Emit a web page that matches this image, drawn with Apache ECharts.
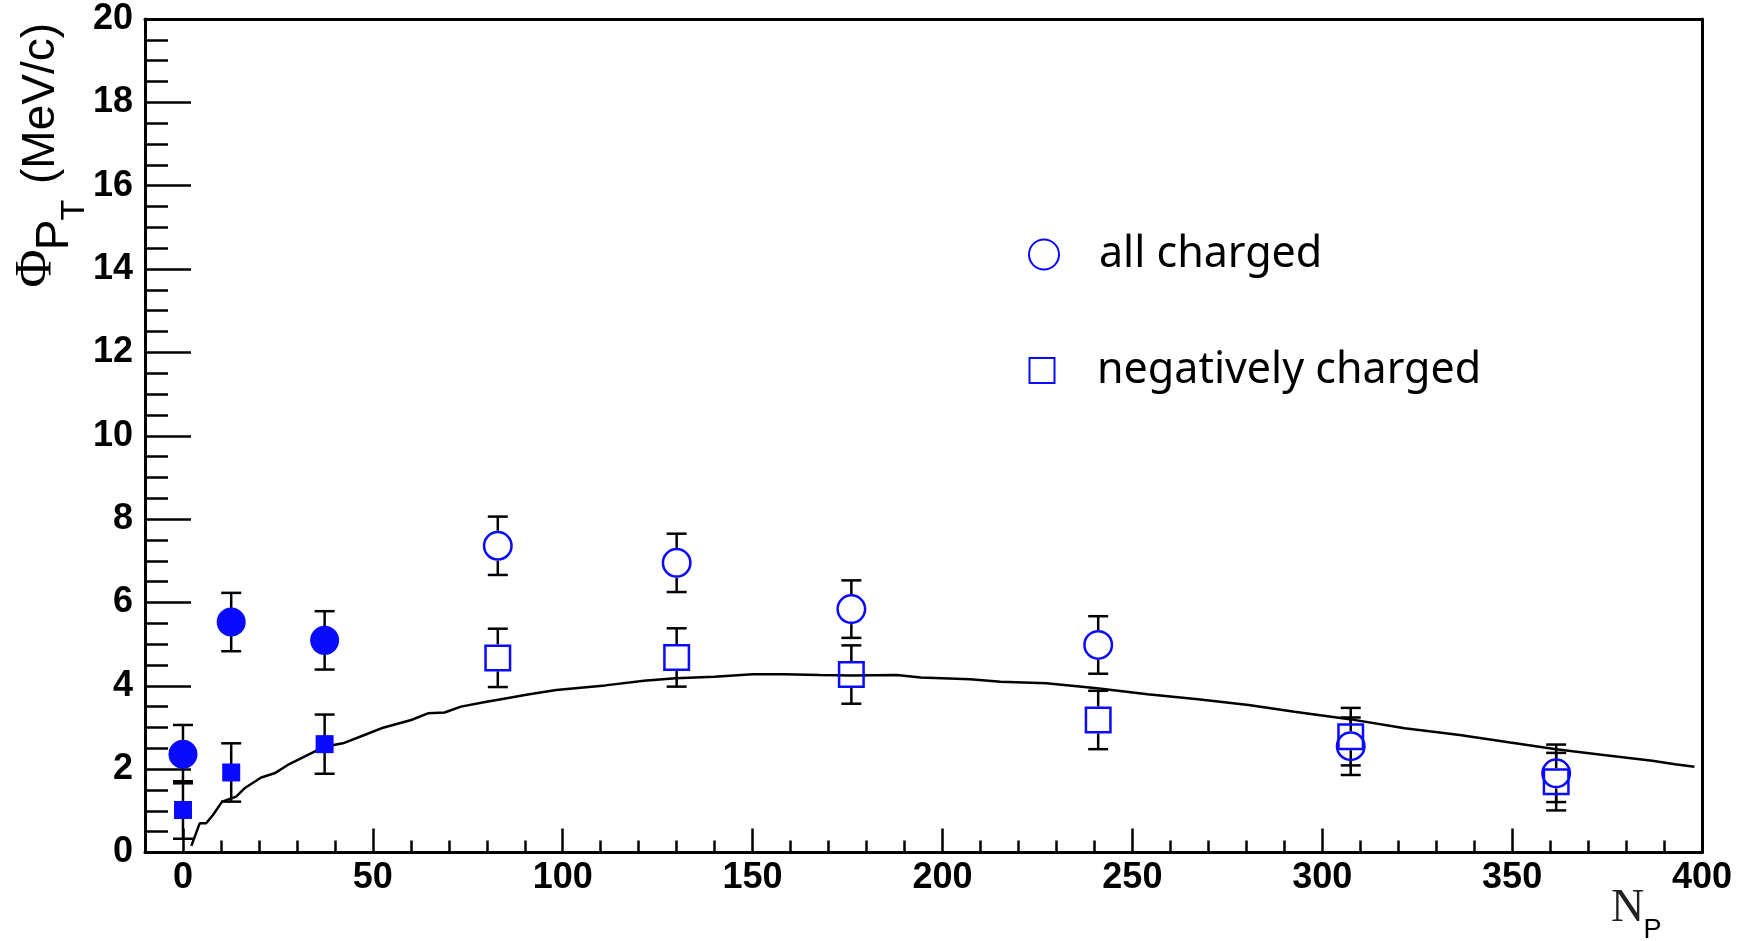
<!DOCTYPE html>
<html>
<head>
<meta charset="utf-8">
<script src="https://cdn.jsdelivr.net/npm/echarts@6/dist/echarts.min.js"></script>
<style>
  html, body { margin: 0; padding: 0; background: #fff; }
  #chart { width: 1752px; height: 941px; }
</style>
</head>
<body>
<div id="chart"></div>
<script>
// Tick positions along N_P
const xMajorTicks = [0, 50, 100, 150, 200, 250, 300, 350, 400];
const xMinorTicks = [10, 20, 30, 40, 60, 70, 80, 90, 110, 120, 130, 140, 160, 170, 180, 190,
  210, 220, 230, 240, 260, 270, 280, 290, 310, 320, 330, 340, 360, 370, 380, 390];

// Points measured with the filled markers (most peripheral bins)
const filledNp = [0, 12.7, 37.3];
const allFilledPhi = [2.36, 5.53, 5.09];
const allFilledErr = [0.70, 0.70, 0.70];
const negFilledPhi = [1.02, 1.92, 2.60];
const negFilledErr = [0.69, 0.70, 0.71];

// Points measured with the open markers
const openNp = [82.9, 130.0, 176.0, 241.0, 307.5, 361.6];
const allOpenPhi = [7.36, 6.95, 5.84, 4.98, 2.55, 1.90];
const allOpenErr = [0.70, 0.70, 0.69, 0.69, 0.69, 0.69];
const negOpenPhi = [4.67, 4.68, 4.27, 3.18, 2.78, 1.70];
const negOpenErr = [0.70, 0.70, 0.70, 0.70, 0.69, 0.69];

// Model curve
const curveNp = [2.2, 4.4, 6.1, 7.9, 10.3, 14.0, 16.2, 20.6, 24.1, 27.6, 32.9, 37.3, 42.1, 47.8,
  52.2, 60.1, 64.5, 68.9, 73.2, 79.6, 86.4, 90.8, 98.3, 111.2, 121.4, 129.7, 139.9, 150.0, 158.3,
  167.6, 175.9, 187.9, 194.3, 207.3, 215.3, 227.4, 240.7, 254.0, 267.3, 280.6, 292.7, 307.2,
  321.7, 336.2, 349.5, 361.6, 372.4, 386.9, 392.9, 398.0];
const curvePhi = [0.16, 0.70, 0.70, 0.90, 1.22, 1.34, 1.54, 1.80, 1.90, 2.10, 2.34, 2.54, 2.62, 2.82,
  2.98, 3.18, 3.34, 3.36, 3.50, 3.61, 3.72, 3.79, 3.90, 4.01, 4.12, 4.18, 4.22, 4.28, 4.28,
  4.26, 4.25, 4.26, 4.20, 4.16, 4.10, 4.06, 3.94, 3.80, 3.68, 3.54, 3.38, 3.20,
  2.98, 2.82, 2.64, 2.48, 2.36, 2.20, 2.12, 2.06];

const BLUE = '#0a0aff';
const zip = (xs, ys) => xs.map((x, i) => [x, ys[i]]);
const zip3 = (xs, ys, es) => xs.map((x, i) => [x, ys[i], es[i]]);

// Vertical error bars with end caps; the bar stops at the marker edge (gap in px)
function errorSeries(name, data, gap) {
  return {
    type: 'custom',
    name: name,
    xAxisIndex: 0, yAxisIndex: 0,
    z: 1,
    silent: true,
    data: data,
    renderItem: function (params, api) {
      const x = api.value(0), y = api.value(1), e = api.value(2);
      const c = api.coord([x, y]);
      const top = api.coord([x, y + e])[1];
      const bot = api.coord([x, y - e])[1];
      const hw = 10;
      const st = { stroke: '#000', lineWidth: 2.5 };
      const kids = [];
      if (c[1] - gap > top) kids.push({ type: 'line', shape: { x1: c[0], y1: top, x2: c[0], y2: c[1] - gap }, style: st });
      if (c[1] + gap < bot) kids.push({ type: 'line', shape: { x1: c[0], y1: c[1] + gap, x2: c[0], y2: bot }, style: st });
      kids.push({ type: 'line', shape: { x1: c[0] - hw, y1: top, x2: c[0] + hw, y2: top }, style: st });
      kids.push({ type: 'line', shape: { x1: c[0] - hw, y1: bot, x2: c[0] + hw, y2: bot }, style: st });
      return { type: 'group', children: kids };
    }
  };
}

const axisLineStyle = { color: '#000', width: 3 };
const tickLineStyle = { color: '#000', width: 2.5 };
const tickFont = { fontFamily: '"Liberation Sans", Arial, sans-serif', fontWeight: 'bold', fontSize: 36, color: '#000' };
const legendFont = { fontFamily: '"Noto Sans", "Open Sans", sans-serif', fontSize: 43, lineHeight: 42, color: '#000' };

const chart = echarts.init(document.getElementById('chart'), null, { renderer: 'canvas' });

chart.setOption({
  animation: false,
  backgroundColor: '#fff',
  grid: { left: 145, top: 19, right: 50, bottom: 88.5, containLabel: false },
  xAxis: [
    {
      type: 'value', min: -10, max: 400, position: 'bottom',
      axisLine: { show: true, onZero: false, lineStyle: axisLineStyle },
      axisTick: { show: true, inside: true, length: 24, customValues: xMajorTicks, lineStyle: tickLineStyle },
      axisLabel: Object.assign({ show: true, margin: 8, customValues: xMajorTicks }, tickFont),
      splitLine: { show: false }
    },
    {
      type: 'value', min: -10, max: 400, position: 'bottom',
      axisLine: { show: false },
      axisTick: { show: true, inside: true, length: 12, customValues: xMinorTicks, lineStyle: tickLineStyle },
      axisLabel: { show: false },
      splitLine: { show: false }
    },
    {
      type: 'value', min: -10, max: 400, position: 'top',
      axisLine: { show: true, onZero: false, lineStyle: axisLineStyle },
      axisTick: { show: false }, axisLabel: { show: false }, splitLine: { show: false }
    }
  ],
  yAxis: [
    {
      type: 'value', min: 0, max: 20, interval: 2, position: 'left',
      axisLine: { show: true, onZero: false, lineStyle: axisLineStyle },
      axisTick: { show: true, inside: true, length: 46, lineStyle: tickLineStyle },
      minorTick: { show: true, splitNumber: 4, length: 23, lineStyle: tickLineStyle },
      axisLabel: Object.assign({ show: true, margin: 12 }, tickFont),
      splitLine: { show: false }, minorSplitLine: { show: false }
    },
    {
      type: 'value', min: 0, max: 20, position: 'right',
      axisLine: { show: true, onZero: false, lineStyle: axisLineStyle },
      axisTick: { show: false }, axisLabel: { show: false }, splitLine: { show: false }
    }
  ],
  legend: [
    {
      data: [{ name: 'all charged', icon: 'circle' }],
      orient: 'vertical', left: 1028, top: 233, padding: 0,
      itemWidth: 100, itemHeight: 30, selectedMode: false,
      textStyle: legendFont
    },
    {
      data: [{ name: 'negatively charged', icon: 'path://M0,0L10,0L10,10L0,10Z' }],
      orient: 'vertical', left: 1028.5, top: 349, padding: 0,
      itemWidth: 100, itemHeight: 25, selectedMode: false,
      textStyle: legendFont
    }
  ],
  series: [
    {
      type: 'line', name: 'model', z: 2,
      data: zip(curveNp, curvePhi),
      showSymbol: false, smooth: false,
      lineStyle: { color: '#000', width: 2.5 },
      silent: true
    },
    errorSeries('err all filled', zip3(filledNp, allFilledPhi, allFilledErr), 0),
    errorSeries('err neg filled', zip3(filledNp, negFilledPhi, negFilledErr), 0),
    errorSeries('err all open', zip3(openNp, allOpenPhi, allOpenErr), 15),
    errorSeries('err neg open', zip3(openNp, negOpenPhi, negOpenErr), 13.5),
    {
      type: 'scatter', name: 'all charged (filled)', z: 3,
      data: zip(filledNp, allFilledPhi),
      symbol: 'circle', symbolSize: 29,
      itemStyle: { color: BLUE, opacity: 1 }
    },
    {
      type: 'scatter', name: 'negatively charged (filled)', z: 3,
      data: zip(filledNp, negFilledPhi),
      symbol: 'rect', symbolSize: 18,
      itemStyle: { color: BLUE, opacity: 1 }
    },
    {
      type: 'scatter', name: 'all charged', z: 3,
      data: zip(openNp, allOpenPhi),
      symbol: 'circle', symbolSize: 27.5,
      itemStyle: { color: 'rgba(0,0,0,0)', borderColor: BLUE, borderWidth: 2.5, opacity: 1 }
    },
    {
      type: 'scatter', name: 'negatively charged', z: 3,
      data: zip(openNp, negOpenPhi),
      symbol: 'rect', symbolSize: 24.5,
      itemStyle: { color: 'rgba(0,0,0,0)', borderColor: BLUE, borderWidth: 2.5, opacity: 1 }
    }
  ],
  graphic: [
    {
      type: 'group', x: 57, y: 285, rotation: Math.PI / 2,
      children: [
        { type: 'text', x: 16.5, y: -20, style: { text: 'Φ', font: '52px "Liberation Serif", serif', fill: '#000', align: 'center', textAlign: 'center', verticalAlign: 'middle', textVerticalAlign: 'middle' } },
        { type: 'text', x: 50, y: -2, style: { text: 'P', font: '46px "Liberation Sans", Arial, sans-serif', fill: '#000', align: 'center', textAlign: 'center', verticalAlign: 'middle', textVerticalAlign: 'middle' } },
        { type: 'text', x: 75, y: 18, style: { text: 'T', font: '34px "Liberation Sans", Arial, sans-serif', fill: '#000', align: 'center', textAlign: 'center', verticalAlign: 'middle', textVerticalAlign: 'middle' } },
        { type: 'text', x: 101, y: -16, style: { text: '(MeV/c)', font: '46px "Liberation Sans", Arial, sans-serif', fill: '#000', align: 'left', textAlign: 'left', verticalAlign: 'middle', textVerticalAlign: 'middle' } }
      ]
    },
    { type: 'text', x: 1627.5, y: 908.5, style: { text: 'N', font: '46px "Liberation Serif", serif', fill: '#222', align: 'center', textAlign: 'center', verticalAlign: 'middle', textVerticalAlign: 'middle' } },
    { type: 'text', x: 1652.5, y: 931, style: { text: 'P', font: '27px "Liberation Sans", Arial, sans-serif', fill: '#000', align: 'center', textAlign: 'center', verticalAlign: 'middle', textVerticalAlign: 'middle' } }
  ]
});
</script>
</body>
</html>
